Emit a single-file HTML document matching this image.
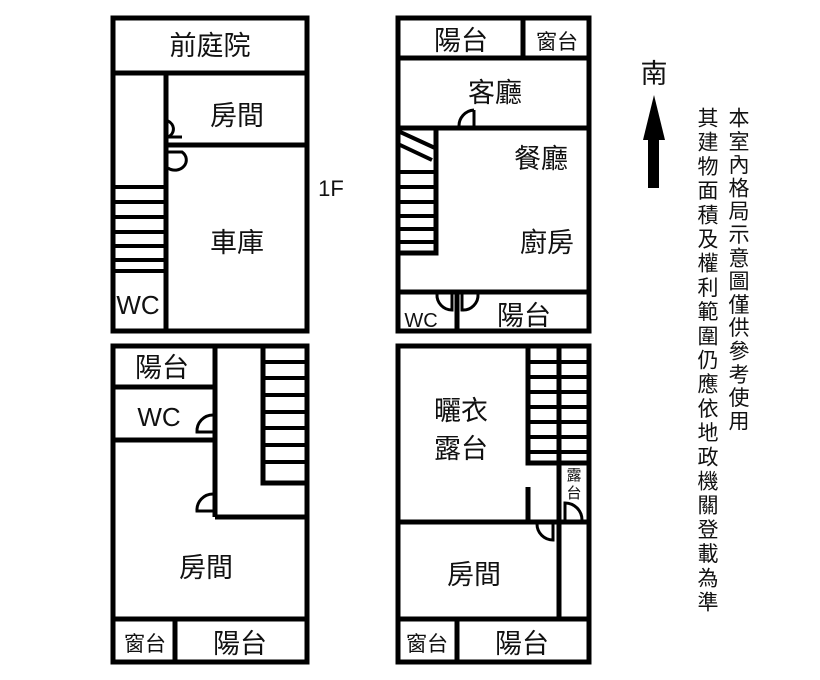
<!DOCTYPE html>
<html><head><meta charset="utf-8"><style>
html,body{margin:0;padding:0;background:#fff;width:820px;height:680px;overflow:hidden;position:relative}
text{font-family:"Liberation Sans","Noto Sans CJK TC",sans-serif;fill:#111}
.v{position:absolute;top:107px;writing-mode:vertical-rl;text-orientation:upright;font-family:"Liberation Sans","Noto Sans CJK TC",sans-serif;font-size:21px;line-height:24px;letter-spacing:2px;color:#111}
</style></head><body>
<svg width="820" height="680" viewBox="0 0 820 680" xmlns="http://www.w3.org/2000/svg" style="position:absolute;left:0;top:0">
<g stroke="#000" stroke-width="5" fill="none">
<rect x="113" y="18" width="194" height="313"/>
<line x1="113" y1="73" x2="307" y2="73"/>
<line x1="166" y1="73" x2="166" y2="331"/>
<line x1="166" y1="145" x2="307" y2="145"/>
<g stroke-width="4">
<line x1="113" y1="187" x2="166" y2="187"/>
<line x1="113" y1="202" x2="166" y2="202"/>
<line x1="113" y1="217" x2="166" y2="217"/>
<line x1="113" y1="232" x2="166" y2="232"/>
<line x1="113" y1="246" x2="166" y2="246"/>
<line x1="113" y1="260" x2="166" y2="260"/>
<line x1="113" y1="271" x2="166" y2="271"/>
</g>
<g stroke-width="3">
<path d="M168 121 A10 9 0 0 1 168 137 L182 137"/>
<path d="M168 152 L182 152 A10 9 0 0 1 168 168"/>
</g>
<rect x="398" y="18" width="191" height="313"/>
<line x1="398" y1="58" x2="589" y2="58"/>
<line x1="523" y1="18" x2="523" y2="58"/>
<line x1="398" y1="128" x2="589" y2="128"/>
<polyline points="398,253 436,253 436,128"/>
<g stroke-width="4">
<line x1="398" y1="131" x2="435" y2="148"/>
<line x1="398" y1="144" x2="432" y2="160"/>
<line x1="398" y1="172" x2="436" y2="172"/>
<line x1="398" y1="187" x2="436" y2="187"/>
<line x1="398" y1="202" x2="436" y2="202"/>
<line x1="398" y1="216" x2="436" y2="216"/>
<line x1="398" y1="229" x2="436" y2="229"/>
<line x1="398" y1="242" x2="436" y2="242"/>
</g>
<line x1="398" y1="292" x2="589" y2="292"/>
<line x1="457" y1="292" x2="457" y2="331"/>
<g stroke-width="3">
<path d="M474 110 L474 127 L459 127 A16 16 0 0 1 474 110"/>
<path d="M437 294 A15 15 0 0 0 452 310 L452 294"/>
<path d="M462 294 L462 310 A15 15 0 0 0 478 294"/>
</g>
<rect x="113" y="346" width="194" height="316"/>
<line x1="113" y1="387" x2="215" y2="387"/>
<line x1="113" y1="440" x2="215" y2="440"/>
<line x1="215" y1="346" x2="215" y2="517"/>
<line x1="215" y1="517" x2="307" y2="517"/>
<polyline points="263,346 263,483 307,483"/>
<g stroke-width="4">
<line x1="263" y1="362" x2="307" y2="362"/>
<line x1="263" y1="378" x2="307" y2="378"/>
<line x1="263" y1="395" x2="307" y2="395"/>
<line x1="263" y1="412" x2="307" y2="412"/>
<line x1="263" y1="428" x2="307" y2="428"/>
<line x1="263" y1="445" x2="307" y2="445"/>
<line x1="263" y1="462" x2="307" y2="462"/>
</g>
<line x1="113" y1="619" x2="307" y2="619"/>
<line x1="175" y1="619" x2="175" y2="662"/>
<g stroke-width="3">
<path d="M213 415 A16 16 0 0 0 197 432 L213 432"/>
<path d="M213 494 A16 16 0 0 0 197 511 L213 511"/>
</g>
<rect x="398" y="346" width="191" height="316"/>
<line x1="398" y1="522" x2="589" y2="522"/>
<polyline points="528,346 528,463 589,463"/>
<line x1="559" y1="346" x2="559" y2="620"/>
<g stroke-width="4">
<line x1="528" y1="362" x2="589" y2="362"/>
<line x1="528" y1="377" x2="589" y2="377"/>
<line x1="528" y1="392" x2="589" y2="392"/>
<line x1="528" y1="407" x2="589" y2="407"/>
<line x1="528" y1="422" x2="589" y2="422"/>
<line x1="528" y1="437" x2="589" y2="437"/>
<line x1="528" y1="452" x2="589" y2="452"/>
</g>
<line x1="528" y1="487" x2="528" y2="522"/>
<line x1="398" y1="619" x2="589" y2="619"/>
<line x1="457" y1="619" x2="457" y2="662"/>
<g stroke-width="3">
<path d="M537 524 A16 16 0 0 0 553 540 L553 524"/>
<path d="M565 520 L565 503 A17 17 0 0 1 582 520"/>
</g>
</g>
<polygon points="654,95 643,140 665,140" fill="#000"/>
<rect x="648" y="139" width="11" height="49" fill="#000"/>
<g font-size="27" text-anchor="middle">
<text x="654" y="83">南</text>
<text x="210" y="55">前庭院</text>
<text x="237" y="125">房間</text>
<text x="237" y="252">車庫</text>
<text x="461" y="50">陽台</text>
<text x="495" y="102">客廳</text>
<text x="541" y="168">餐廳</text>
<text x="547" y="252">廚房</text>
<text x="524" y="325">陽台</text>
<text x="162" y="377">陽台</text>
<text x="206" y="577">房間</text>
<text x="240" y="653">陽台</text>
<text x="461" y="420">曬衣</text>
<text x="461" y="458">露台</text>
<text x="474" y="584">房間</text>
<text x="522" y="653">陽台</text>
</g>
<g font-size="21" text-anchor="middle">
<text x="557" y="49">窗台</text>
<text x="145" y="651">窗台</text>
<text x="427" y="651">窗台</text>
</g>
<text x="138" y="314" font-size="26" text-anchor="middle">WC</text>
<text x="159" y="426" font-size="26" text-anchor="middle">WC</text>
<text x="421" y="327" font-size="20" text-anchor="middle">WC</text>
<text x="331" y="196" font-size="22" text-anchor="middle">1F</text>
<g font-size="15" text-anchor="middle">
<text x="574" y="480">露</text>
<text x="574" y="498">台</text>
</g>
</svg>
<div class="v" style="left:725px;letter-spacing:2.3px">本室內格局示意圖僅供參考使用</div>
<div class="v" style="left:694px;letter-spacing:3.2px">其建物面積及權利範圍仍應依地政機關登載為準</div>
</body></html>
